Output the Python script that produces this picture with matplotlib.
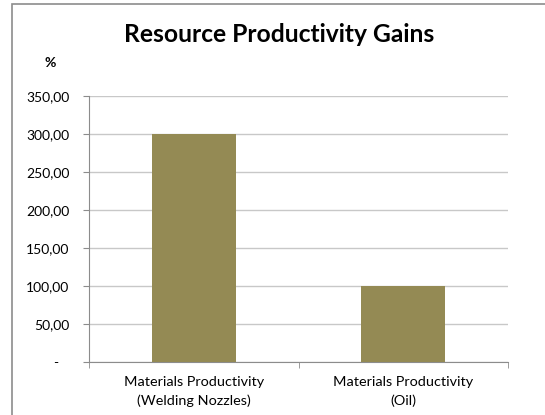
import matplotlib
matplotlib.use("Agg")
import matplotlib.pyplot as plt
from matplotlib.patches import Rectangle

categories = ["Materials Productivity\n(Welding Nozzles)", "Materials Productivity\n(Oil)"]
values = [300.0, 100.0]
yticks = [0, 50, 100, 150, 200, 250, 300, 350]
ytick_labels = ["-   ", "50,00", "100,00", "150,00", "200,00", "250,00", "300,00", "350,00"]

plt.rcParams['font.family'] = ['Lato', 'DejaVu Sans']

W, H = 545, 415
fig = plt.figure(figsize=(W / 100, H / 100), dpi=100)
fig.patch.set_facecolor("white")

# outer chart border
fig.patches.append(Rectangle((12 / W, -0.1), 1.2, (H - 4) / H + 0.1, transform=fig.transFigure,
                             fill=False, edgecolor="#8c8c8c", linewidth=1.2))

ax = fig.add_axes([89 / W, 1 - 362 / H, (508 - 89) / W, (362 - 96) / H])
x = [0, 1]
ax.bar(x, values, width=0.4, color="#948A54", zorder=3)
ax.set_xlim(-0.5, 1.5)
ax.set_ylim(0, 350)
ax.set_yticks(yticks)
ax.set_yticklabels(ytick_labels, fontsize=10)
ax.set_xticks(x)
ax.set_xticklabels(categories, fontsize=10.4, linespacing=1.6)
ax.tick_params(axis='x', length=0, pad=10)
ax.tick_params(axis='y', length=4, color="#8c8c8c", pad=10)
# category boundary ticks
ax.set_xticks([-0.5, 0.5, 1.5], minor=True)
ax.tick_params(axis='x', which='minor', length=4, color="#8c8c8c")
ax.yaxis.grid(True, color="#c8c8c8", linewidth=1, zorder=0)
for s in ["top", "right"]:
    ax.spines[s].set_visible(False)
ax.spines["left"].set_color("#8c8c8c")
ax.spines["bottom"].set_color("#8c8c8c")

fig.text(279.5 / W, 1 - 34 / H, "Resource Productivity Gains", ha="center", va="center",
         fontsize=17.7, fontweight="bold")
fig.text(50 / W, 1 - 63 / H, "%", ha="center", va="center", fontsize=10, fontweight="bold")

fig.savefig("out.png", dpi=100, facecolor="white")
